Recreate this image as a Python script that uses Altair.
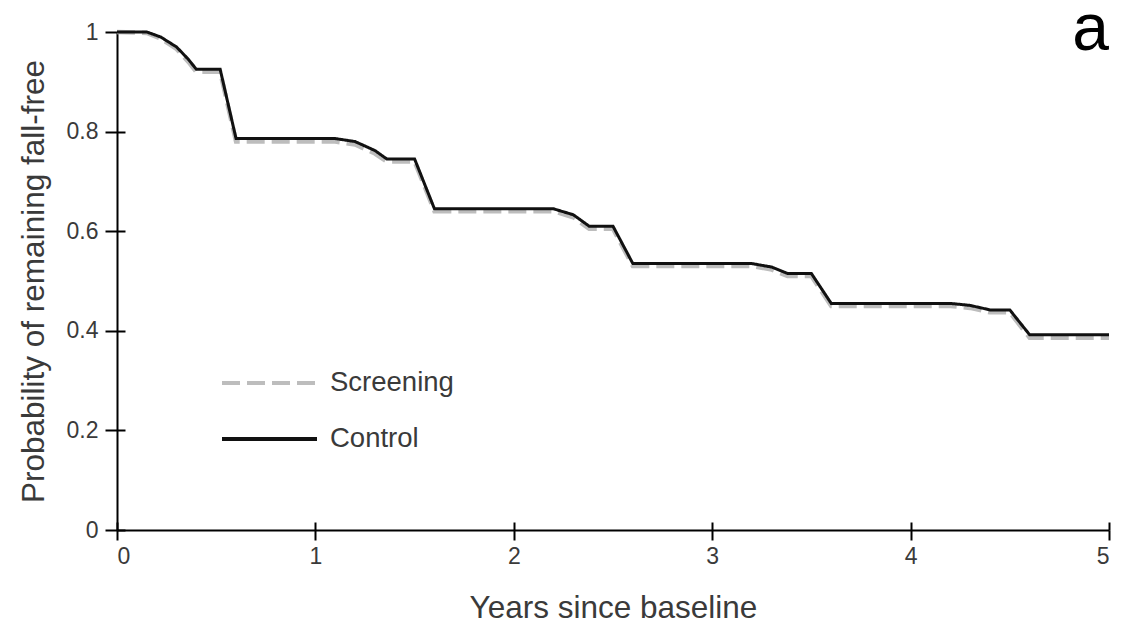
import altair as alt
import pandas as pd

# Years since baseline (sample points along the survival curves)
years = [0.00, 0.15, 0.22, 0.30, 0.36, 0.40, 0.52, 0.60,
         1.10, 1.20, 1.30, 1.36, 1.50, 1.60,
         2.20, 2.30, 2.38, 2.50, 2.60,
         3.20, 3.30, 3.38, 3.50, 3.60,
         4.20, 4.30, 4.40, 4.50, 4.60, 5.00]

control = [1.000, 1.000, 0.990, 0.970, 0.945, 0.925, 0.925, 0.786,
           0.786, 0.780, 0.762, 0.745, 0.745, 0.645,
           0.645, 0.633, 0.610, 0.610, 0.535,
           0.535, 0.528, 0.515, 0.515, 0.455,
           0.455, 0.451, 0.442, 0.442, 0.392, 0.392]

screening = [1.000, 0.998, 0.987, 0.966, 0.940, 0.920, 0.920, 0.780,
             0.780, 0.774, 0.756, 0.740, 0.740, 0.640,
             0.640, 0.628, 0.605, 0.605, 0.530,
             0.530, 0.523, 0.510, 0.510, 0.450,
             0.450, 0.446, 0.437, 0.437, 0.386, 0.386]

series_names = ["Screening", "Control"]
x_ticks = [0, 1, 2, 3, 4, 5]
y_ticks = [0, 0.2, 0.4, 0.6, 0.8, 1]
panel_label = ["a"]

rows = []
for t, s in zip(years, screening):
    rows.append({"year": t, "p": s, "series": "Screening"})
for t, c in zip(years, control):
    rows.append({"year": t, "p": c, "series": "Control"})
df = pd.DataFrame(rows)

FONT = "Liberation Sans"
TXT = "#3a3a3a"
W, H = 992, 498

color_scale = alt.Scale(domain=series_names, range=["#bdbdbd", "#111111"])
dash_scale = alt.Scale(domain=series_names, range=[[18, 7], [1, 0]])
xs = alt.Scale(domain=[0, 5], nice=False)
ys = alt.Scale(domain=[0, 1], nice=False)

legend = alt.Legend(
    title=None, orient="none", legendX=103, legendY=336,
    symbolType="stroke", symbolSize=9025, symbolStrokeWidth=4,
    labelFontSize=27.5, labelFont=FONT, labelColor=TXT,
    labelOffset=11, clipHeight=30, rowPadding=26, direction="vertical",
)

x_enc = alt.X("year:Q", scale=xs,
              axis=alt.Axis(values=x_ticks, format="d", title="Years since baseline",
                            titleFontSize=31.5, titlePadding=24, labelFontSize=23,
                            labelPadding=5, tickSize=10))
y_enc = alt.Y("p:Q", scale=ys,
              axis=alt.Axis(values=y_ticks, format="~g",
                            title="Probability of remaining fall-free",
                            titleFontSize=31.5, titlePadding=16, labelFontSize=23,
                            labelPadding=7, tickSize=12))

base = alt.Chart(df)

# invisible layer carrying inward-pointing tick marks (ticks cross the axes)
inner = base.transform_filter(alt.datum.series == "Control").mark_line(
    opacity=0
).encode(
    x=alt.X("year:Q", scale=xs,
            axis=alt.Axis(orient="top", offset=-H, values=x_ticks, labels=False,
                          domain=False, title=None, tickSize=8)),
    y=alt.Y("p:Q", scale=ys,
            axis=alt.Axis(orient="right", offset=-W, values=y_ticks, labels=False,
                          domain=False, title=None, tickSize=8)),
)

scr = base.transform_filter(alt.datum.series == "Screening").mark_line(
    strokeWidth=4.5
).encode(
    x=x_enc, y=y_enc,
    color=alt.Color("series:N", scale=color_scale, legend=legend),
    strokeDash=alt.StrokeDash("series:N", scale=dash_scale, legend=legend),
)

ctl = base.transform_filter(alt.datum.series == "Control").mark_line(
    strokeWidth=3
).encode(
    x=alt.X("year:Q", scale=xs, axis=None),
    y=alt.Y("p:Q", scale=ys, axis=None),
    color=alt.Color("series:N", scale=color_scale, legend=legend),
    strokeDash=alt.StrokeDash("series:N", scale=dash_scale, legend=legend),
)

label = alt.Chart(pd.DataFrame({"t": panel_label})).mark_text(
    font=FONT, fontSize=66, color="#000000", align="right", baseline="alphabetic"
).encode(text="t:N", x=alt.value(992), y=alt.value(18))

chart = alt.layer(scr, inner, ctl, label).resolve_scale(
    x="independent", y="independent"
).properties(
    width=W, height=H,
    autosize=alt.AutoSizeParams(type="none"),
    padding={"left": 109, "top": 24, "right": 10, "bottom": 96},
).configure_view(stroke=None).configure_axis(
    grid=False, domainColor="#000000", domainWidth=2, tickColor="#000000",
    tickWidth=2, labelFont=FONT, titleFont=FONT, labelColor=TXT, titleColor=TXT,
    titleFontWeight="normal",
)

chart.save("out.html", embed_options={"renderer": "svg", "actions": False})
